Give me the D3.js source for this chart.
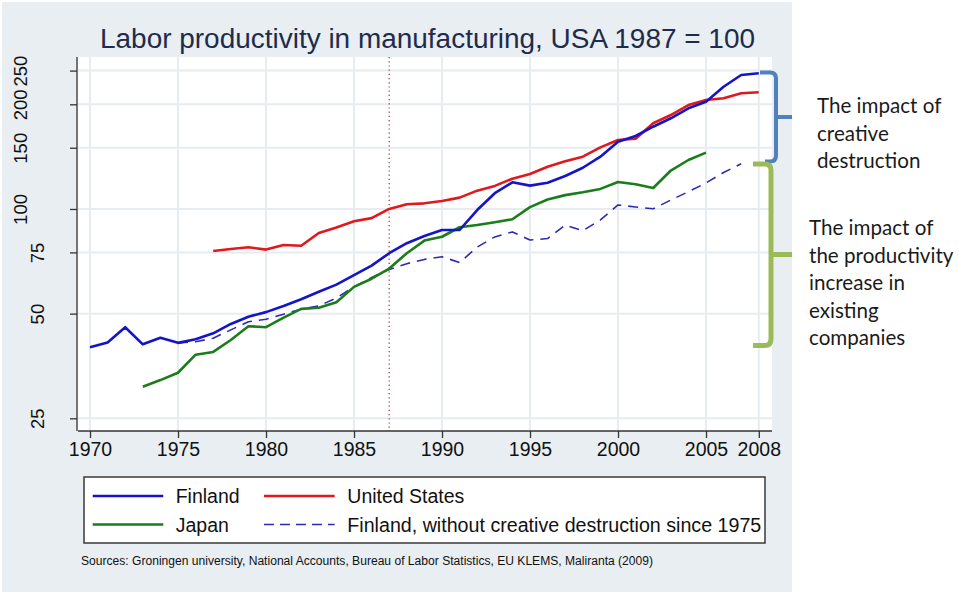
<!DOCTYPE html>
<html><head><meta charset="utf-8">
<script src="https://cdn.jsdelivr.net/npm/d3@7/dist/d3.min.js"></script>
<style>html,body{margin:0;padding:0;background:#fff;}svg{display:block;}</style>
</head><body>
<svg id="chart" width="959" height="594"></svg>
<script>
const years = [1970,1971,1972,1973,1974,1975,1976,1977,1978,1979,1980,1981,1982,1983,1984,1985,1986,1987,1988,1989,1990,1991,1992,1993,1994,1995,1996,1997,1998,1999,2000,2001,2002,2003,2004,2005,2006,2007,2008];
const finland = [40.0,41.3,45.7,40.8,42.6,41.2,42.2,43.9,46.7,49.0,50.5,52.6,55.0,57.8,60.6,64.5,68.7,74.6,79.7,83.6,87.0,87.0,99.3,111.0,119.3,116.7,119.0,124.4,131.4,141.4,156.1,162.1,172.4,182.3,194.8,203.5,224.7,242.8,245.6];
const unitedStates = [null,null,null,null,null,null,null,75.7,76.7,77.6,76.4,78.8,78.4,85.3,88.5,92.2,94.1,100,103.2,103.8,105.4,107.8,112.9,116.5,122.2,126.1,132.3,137.1,141.4,150.4,157.9,159.3,176.4,186.3,199.0,205.8,208.1,215.1,216.6];
const japan = [null,null,null,30.8,32.2,33.8,38.1,38.8,42.0,46.0,45.7,48.7,51.6,52.0,53.9,59.7,63.0,67.4,74.6,81.1,83.2,88.6,89.9,91.6,93.4,101.2,106.5,109.6,111.7,114.2,119.6,117.8,114.9,129.0,138.3,145.2,null,null,null];
const finlandNoCD = [null,null,null,null,null,41.2,41.5,42.5,44.9,47.4,48.2,49.8,51.5,52.6,55.5,59.7,63.5,67.0,69.6,71.6,72.9,70.1,77.7,83.1,85.9,81.4,82.2,89.9,86.6,93.0,102.7,101.3,100.1,106.1,112.1,118.8,127.3,134.9,null];
const xTicks = [1970,1975,1980,1985,1990,1995,2000,2005,2008];
const yTicks = [25,50,75,100,150,200,250];
const titleText = "Labor productivity in manufacturing, USA 1987 = 100";
const sourceText = "Sources: Groningen university, National Accounts, Bureau of Labor Statistics, EU KLEMS, Maliranta (2009)";
const seriesNames = ["Finland","United States","Japan","Finland, without creative destruction since 1975"];
const note1 = ["The impact of","creative","destruction"];
const note2 = ["The impact of","the productivity","increase in","existing","companies"];

const svg = d3.select("#chart");
const F = "'Liberation Sans', Arial, sans-serif";

// backgrounds
svg.append("rect").attr("x",0).attr("y",0).attr("width",959).attr("height",594).attr("fill","#ffffff");
svg.append("rect").attr("x",2).attr("y",2).attr("width",790).attr("height",590).attr("fill","#e8eef2");
const plot = {l:78, r:772, t:57, b:431};
svg.append("rect").attr("x",plot.l).attr("y",plot.t).attr("width",plot.r-plot.l).attr("height",plot.b-plot.t).attr("fill","#ffffff");

const x = d3.scaleLinear().domain([1970,2008]).range([90,758.8]);
const y = d3.scaleLog().domain([25,250]).range([418.3,70.6]);

// grid
const grid = svg.append("g").attr("stroke","#e6ecf0").attr("stroke-width",2);
yTicks.forEach(t=>grid.append("line").attr("x1",plot.l).attr("x2",plot.r).attr("y1",y(t)).attr("y2",y(t)));
xTicks.forEach(t=>grid.append("line").attr("x1",x(t)).attr("x2",x(t)).attr("y1",plot.t).attr("y2",plot.b));

// 1987 dotted line
svg.append("line").attr("x1",x(1987)).attr("x2",x(1987)).attr("y1",plot.t).attr("y2",plot.b)
  .attr("stroke","#b04a60").attr("stroke-width",1.4).attr("stroke-dasharray","1.2,3");

// axes
const xAxis = d3.axisBottom(x).tickValues(xTicks).tickFormat(d3.format("d")).tickSize(7).tickPadding(4);
const gx = svg.append("g").attr("transform",`translate(0,${plot.b})`).call(xAxis);
gx.select(".domain").attr("d",`M${plot.l},0H${plot.r}`).attr("stroke","#333").attr("stroke-width",1.3);
gx.selectAll(".tick line").attr("stroke","#333").attr("stroke-width",1.3);
gx.selectAll(".tick text").attr("font-family",F).attr("font-size",19.5).attr("fill","#111").attr("dy","0.71em");

const yAxis = d3.axisLeft(y).tickValues(yTicks).tickFormat(d3.format("d")).tickSize(7);
const gy = svg.append("g").attr("transform",`translate(${plot.l-1},0)`).call(yAxis);
gy.select(".domain").attr("d",`M0,${plot.t}V${plot.b}`).attr("stroke","#333").attr("stroke-width",1.3);
gy.selectAll(".tick line").attr("stroke","#333").attr("stroke-width",1.3);
gy.selectAll(".tick text").attr("font-family",F).attr("font-size",18.5).attr("fill","#111")
  .attr("x",null).attr("dy",null).attr("text-anchor","middle")
  .attr("transform",d=>`translate(${d>=100?-50:-33},0) rotate(-90)`);

// lines
const line = d3.line().defined(d=>d[1]!=null).x(d=>x(d[0])).y(d=>y(d[1]));
function draw(vals,color,w,dash){
  const p = svg.append("path").datum(years.map((yr,i)=>[yr,vals[i]]))
    .attr("d",line).attr("fill","none").attr("stroke",color).attr("stroke-width",w)
    .attr("stroke-linejoin","round");
  if(dash) p.attr("stroke-dasharray",dash);
}
const cBlue="#1414c8", cRed="#e0191e", cGreen="#1a7d1a", cDash="#2b2bb4";
draw(finlandNoCD,cDash,1.6,"10,7");
draw(japan,cGreen,2.6);
draw(unitedStates,cRed,2.6);
draw(finland,cBlue,2.6);

// title
svg.append("text").attr("x",100).attr("y",47.5).attr("font-family",F).attr("font-size",27)
  .attr("fill","#1e2b4c").attr("textLength",655).attr("lengthAdjust","spacingAndGlyphs").text(titleText);

// legend
const lg = svg.append("g");
lg.append("rect").attr("x",84).attr("y",477).attr("width",681).attr("height",66).attr("fill","#fff").attr("stroke","#3a3a3a").attr("stroke-width",1.5);
const items = [
  {name:seriesNames[0],c:cBlue,w:2.6,dash:null,lx:92.7,tx:175.7,yy:496},
  {name:seriesNames[1],c:cRed,w:2.6,dash:null,lx:264,tx:347.3,yy:496},
  {name:seriesNames[2],c:cGreen,w:2.6,dash:null,lx:92.7,tx:175.7,yy:524.5},
  {name:seriesNames[3],c:cDash,w:1.6,dash:"10,6",lx:264,tx:347.3,yy:524.5,len:414}
];
items.forEach(it=>{
  const l = lg.append("line").attr("x1",it.lx).attr("x2",it.lx+70.6).attr("y1",it.yy).attr("y2",it.yy)
    .attr("stroke",it.c).attr("stroke-width",it.w);
  if(it.dash) l.attr("stroke-dasharray",it.dash);
  const t = lg.append("text").attr("x",it.tx).attr("y",it.yy+7).attr("font-family",F).attr("font-size",19.5).attr("fill","#111").text(it.name);
  if(it.len) t.attr("textLength",it.len).attr("lengthAdjust","spacingAndGlyphs");
});

// sources
svg.append("text").attr("x",81).attr("y",564.5).attr("font-family",F).attr("font-size",12)
  .attr("fill","#111").attr("textLength",572).attr("lengthAdjust","spacingAndGlyphs").text(sourceText);

// brackets
svg.append("path").attr("d","M760,72.5H770Q776,72.5 776,78.5V155.5Q776,161.5 770,161.5H765M776,117H792")
  .attr("fill","none").attr("stroke","#4f81bd").attr("stroke-width",4);
svg.append("path").attr("d","M753,164H765Q771,164 771,170V339Q771,345.5 765,345.5H753M771,254.5H792")
  .attr("fill","none").attr("stroke","#9bbb59").attr("stroke-width",5);

// notes
const NF = "Lato, 'Open Sans', sans-serif";
note1.forEach((s,i)=>svg.append("text").attr("x",817).attr("y",113.3+i*27.4).attr("font-family",NF).attr("font-size",20.6).attr("fill","#1a1a1a").text(s));
note2.forEach((s,i)=>svg.append("text").attr("x",809).attr("y",235+i*27.5).attr("font-family",NF).attr("font-size",20.6).attr("fill","#1a1a1a").text(s));
</script>
</body></html>
